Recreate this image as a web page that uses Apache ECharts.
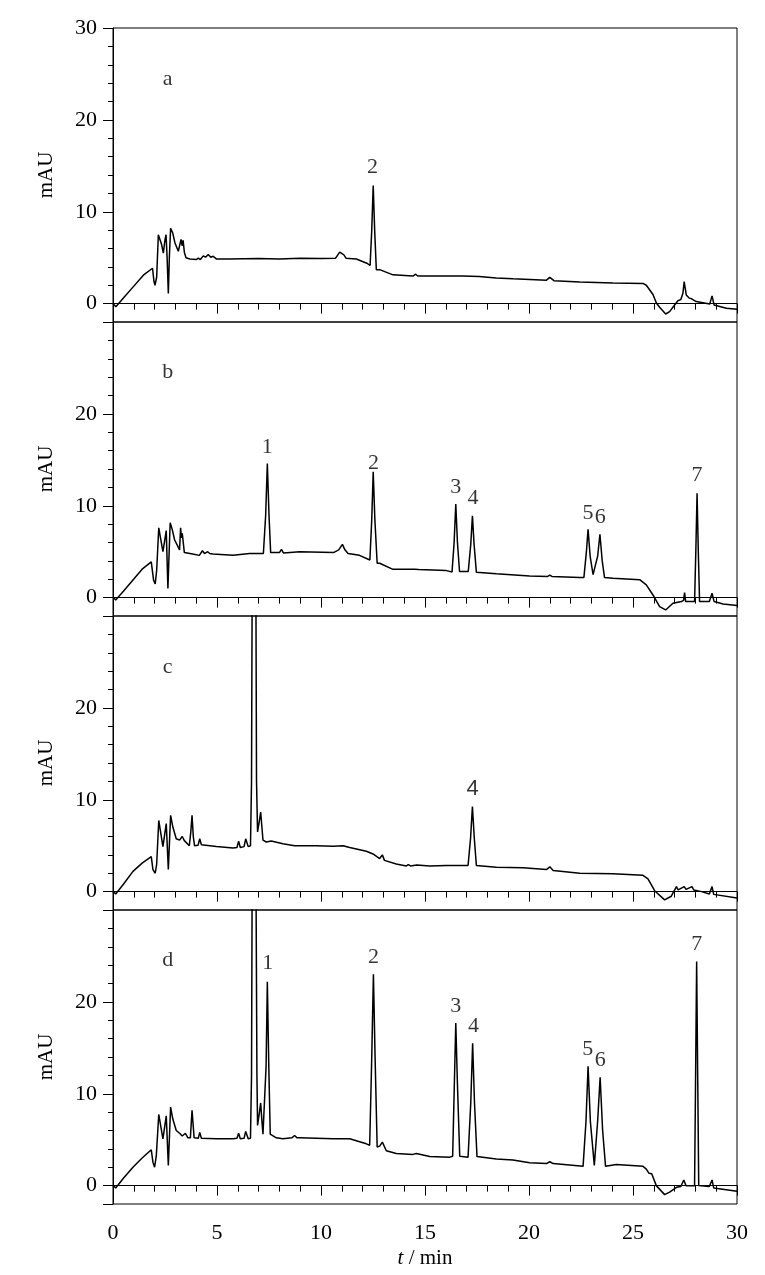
<!DOCTYPE html>
<html>
<head>
<meta charset="utf-8">
<script src="https://cdn.jsdelivr.net/npm/echarts@6/dist/echarts.min.js"></script>
<style>
html, body { margin: 0; padding: 0; background: #fff; }
#chart { width: 765px; height: 1275px; }
</style>
</head>
<body>
<div id="chart"></div>
<script>
// chromatogram a
var timeA = [0, 0.14, 0.5, 0.98, 1.46, 1.9, 1.97, 2.02, 2.1, 2.18, 2.26, 2.34, 2.42, 2.5, 2.55, 2.6, 2.66, 2.71, 2.77, 2.87, 2.98, 3.14, 3.22, 3.27, 3.32, 3.37, 3.43, 3.51, 3.7, 4.0, 4.1, 4.2, 4.34, 4.45, 4.58, 4.7, 4.82, 4.98, 5.6, 7.0, 8.0, 9.0, 10.0, 10.7, 10.9, 10.98, 11.1, 11.2, 11.7, 12.2, 12.36, 12.44, 12.51, 12.58, 12.66, 12.82, 13.46, 14.42, 14.55, 14.65, 16.8, 17.6, 18.43, 19.23, 20.84, 21.0, 21.2, 22.44, 24.04, 25.48, 25.64, 25.96, 26.13, 26.28, 26.57, 26.76, 27.0, 27.17, 27.3, 27.4, 27.46, 27.56, 27.7, 27.75, 27.8, 28.04, 28.69, 28.8, 28.9, 29.49, 30];
var mauA = [0, -0.35, 0.6, 1.85, 3.1, 3.85, 2.4, 2.0, 2.9, 7.5, 7.6, 6.4, 5.5, 6.95, 7.5, 5.1, 1.1, 5.1, 8.2, 7.7, 6.6, 5.7, 5.7, 7.0, 6.3, 6.9, 5.6, 5.0, 4.85, 4.8, 4.95, 4.8, 5.2, 5.05, 5.35, 5.05, 5.15, 4.85, 4.85, 4.9, 4.85, 4.95, 4.9, 4.95, 5.6, 5.8, 5.3, 4.95, 4.85, 4.4, 4.15, 8.0, 12.85, 8.0, 3.7, 3.7, 3.13, 3.0, 3.2, 3.0, 3.0, 2.95, 2.8, 2.7, 2.55, 2.85, 2.5, 2.35, 2.25, 2.2, 2.0, 1.0, 0.04, -0.4, -1.13, -0.87, -0.15, 0.33, 0.45, 1.13, 2.4, 0.95, 0.6, 0.75, 0.55, 0.22, -0.04, 0.84, -0.15, -0.5, -0.62];
var tagA = ['a', '2'];
var tagTimeA = [2.63, 12.48];
var tagMauA = [24.4, 14.8];

// chromatogram b
var timeB = [0, 0.13, 0.5, 0.96, 1.4, 1.84, 1.95, 2.03, 2.1, 2.2, 2.26, 2.4, 2.56, 2.64, 2.7, 2.75, 2.85, 2.96, 3.2, 3.25, 3.29, 3.33, 3.43, 3.83, 4.15, 4.3, 4.4, 4.55, 4.65, 4.8, 5.77, 6.57, 7.23, 7.34, 7.42, 7.5, 7.58, 8.0, 8.1, 8.2, 8.97, 10.6, 10.85, 11.03, 11.15, 11.3, 11.85, 12.35, 12.44, 12.51, 12.59, 12.7, 12.82, 13.46, 14.5, 14.58, 14.7, 16.03, 16.3, 16.4, 16.48, 16.56, 16.66, 17.08, 17.2, 17.28, 17.36, 17.47, 18.43, 20.03, 20.9, 21.0, 21.1, 22.44, 22.64, 22.76, 22.84, 22.94, 23.08, 23.16, 23.3, 23.41, 23.52, 23.63, 24.04, 25.32, 25.64, 25.96, 26.28, 26.57, 26.92, 27.33, 27.43, 27.48, 27.53, 27.96, 28.02, 28.08, 28.14, 28.2, 28.67, 28.8, 28.9, 29.33, 30];
var mauB = [0.1, -0.25, 0.7, 1.92, 3.1, 3.9, 1.9, 1.5, 3.0, 7.6, 7.5, 5.0, 7.3, 1.0, 5.0, 8.15, 7.4, 6.3, 5.2, 7.6, 6.5, 7.0, 4.9, 4.75, 4.6, 5.1, 4.8, 5.0, 4.8, 4.75, 4.6, 4.8, 4.8, 9.0, 14.6, 9.0, 4.9, 4.9, 5.26, 4.85, 5.0, 4.9, 5.2, 5.8, 5.2, 4.8, 4.6, 4.1, 8.5, 13.7, 8.5, 3.74, 3.74, 3.08, 3.1, 3.25, 3.05, 2.94, 2.8, 6.0, 10.2, 6.0, 2.85, 2.85, 5.8, 8.9, 5.8, 2.77, 2.6, 2.36, 2.3, 2.45, 2.3, 2.2, 2.2, 5.0, 7.43, 4.5, 2.5, 2.4, 4.5, 6.9, 4.0, 2.2, 2.1, 1.95, 1.38, 0.29, -0.98, -1.34, -0.61, -0.43, -0.3, 0.54, -0.43, -0.43, 5.0, 11.35, 5.0, -0.43, -0.43, 0.47, -0.43, -0.7, -0.85];
var tagB = ['b', '1', '2', '3', '4', '5', '6', '7'];
var tagTimeB = [2.63, 7.42, 12.53, 16.48, 17.31, 22.84, 23.43, 28.08];
var tagMauB = [24.5, 16.4, 14.6, 12.07, 10.8, 9.17, 8.8, 13.3];

// chromatogram c
var timeC = [0, 0.13, 0.5, 0.96, 1.4, 1.84, 1.92, 2.03, 2.1, 2.2, 2.28, 2.4, 2.56, 2.66, 2.77, 2.88, 3.04, 3.2, 3.33, 3.43, 3.67, 3.74, 3.8, 3.86, 3.92, 4.09, 4.17, 4.25, 4.97, 5.77, 5.96, 6.04, 6.12, 6.3, 6.38, 6.5, 6.61, 6.66, 6.7, 6.86, 6.9, 6.95, 7.03, 7.1, 7.16, 7.21, 7.37, 7.61, 8.17, 8.73, 9.77, 10.58, 11.06, 11.38, 12.18, 12.5, 12.82, 12.95, 13.05, 13.62, 14.1, 14.2, 14.3, 14.6, 15.23, 16.03, 17.07, 17.19, 17.28, 17.37, 17.47, 18.43, 19.71, 20.84, 21.0, 21.16, 22.44, 24.04, 25.48, 25.72, 26.04, 26.52, 26.84, 27.09, 27.17, 27.46, 27.55, 27.84, 27.92, 28.3, 28.67, 28.8, 28.88, 30];
var mauC = [0, -0.25, 0.8, 2.2, 3.1, 3.82, 2.4, 2.0, 3.0, 7.75, 7.6, 4.9, 7.4, 2.4, 8.3, 7.0, 5.75, 5.6, 6.0, 5.55, 5.0, 6.5, 8.3, 6.0, 5.0, 5.05, 5.75, 5.1, 4.9, 4.75, 4.8, 5.5, 4.8, 4.9, 5.75, 4.9, 5.0, 12, 40, 40, 12, 6.5, 7.6, 8.65, 7.0, 5.6, 5.4, 5.5, 5.2, 5.0, 5.0, 4.95, 5.0, 4.8, 4.4, 4.1, 3.6, 4.0, 3.4, 3.0, 2.8, 2.95, 2.8, 2.9, 2.8, 2.85, 2.85, 5.8, 9.27, 5.8, 2.85, 2.65, 2.6, 2.4, 2.7, 2.3, 2.0, 1.95, 1.78, 1.4, 0.1, -0.9, -0.5, 0.55, 0.18, 0.55, 0.25, 0.55, 0.18, 0.0, -0.25, 0.55, -0.3, -0.7];
var tagC = ['c', '4'];
var tagTimeC = [2.63, 17.29];
var tagMauC = [24.4, 11.2];

// chromatogram d
var timeD = [0, 0.13, 0.5, 0.96, 1.4, 1.84, 1.92, 2.0, 2.08, 2.2, 2.28, 2.4, 2.56, 2.66, 2.77, 2.87, 3.04, 3.2, 3.28, 3.33, 3.48, 3.6, 3.72, 3.8, 3.9, 4.1, 4.17, 4.25, 4.97, 5.77, 5.96, 6.04, 6.12, 6.3, 6.38, 6.5, 6.61, 6.66, 6.7, 6.86, 6.92, 6.95, 7.03, 7.1, 7.16, 7.21, 7.29, 7.36, 7.42, 7.49, 7.56, 7.61, 7.85, 8.17, 8.6, 8.73, 8.85, 8.97, 10.58, 11.38, 12.18, 12.34, 12.44, 12.52, 12.6, 12.7, 12.82, 12.95, 13.14, 13.62, 14.42, 14.58, 15.23, 16.19, 16.33, 16.41, 16.48, 16.56, 16.67, 17.07, 17.2, 17.29, 17.38, 17.5, 18.43, 19.23, 19.3, 20.03, 20.84, 21.0, 21.16, 22.6, 22.74, 22.84, 22.95, 23.14, 23.3, 23.42, 23.54, 23.68, 24.2, 25.48, 25.64, 25.77, 25.9, 26.12, 26.52, 26.76, 27.09, 27.3, 27.44, 27.55, 27.96, 28.01, 28.06, 28.11, 28.16, 28.67, 28.8, 28.88, 30];
var mauD = [0, -0.25, 0.8, 2.0, 3.0, 3.9, 2.55, 2.0, 3.2, 7.75, 7.6, 5.1, 7.6, 2.2, 8.55, 7.3, 6.0, 5.7, 5.8, 5.4, 5.7, 5.2, 5.2, 8.2, 5.2, 5.15, 5.8, 5.15, 5.1, 5.1, 5.15, 5.7, 5.1, 5.15, 5.9, 5.1, 5.15, 12, 40, 40, 12, 6.55, 7.8, 9.0, 7.0, 5.6, 5.5, 13, 22.2, 13, 5.6, 5.4, 5.2, 5.1, 5.2, 5.45, 5.2, 5.2, 5.1, 5.1, 4.55, 4.4, 14, 23.0, 14, 4.2, 4.3, 4.73, 3.8, 3.5, 3.4, 3.5, 3.16, 3.1, 3.2, 11, 17.7, 11, 3.2, 3.1, 9, 15.5, 9, 3.16, 2.9, 2.8, 2.9, 2.5, 2.4, 2.6, 2.4, 2.1, 7, 12.98, 7, 2.2, 7, 11.8, 6, 2.1, 2.3, 2.1, 1.8, 1.34, 1.3, 0, -0.98, -0.7, -0.18, -0.1, 0.62, 0.0, 0.0, 12, 24.4, 12, 0.0, -0.1, 0.62, -0.25, -0.62];
var tagD = ['d', '1', '2', '3', '4', '5', '6', '7'];
var tagTimeD = [2.63, 7.44, 12.53, 16.48, 17.33, 22.82, 23.43, 28.06];
var tagMauD = [24.5, 24.2, 24.9, 19.5, 17.35, 14.9, 13.7, 26.3];

var majorTicksY = [-2, 0, 10, 20, 30];
var labelsYTop = [0, 10, 20, 30];
var labelsY = [0, 10, 20];

var panels = [
  {time: timeA, mau: mauA, tag: tagA, tagTime: tagTimeA, tagMau: tagMauA, yLabels: labelsYTop},
  {time: timeB, mau: mauB, tag: tagB, tagTime: tagTimeB, tagMau: tagMauB, yLabels: labelsY},
  {time: timeC, mau: mauC, tag: tagC, tagTime: tagTimeC, tagMau: tagMauC, yLabels: labelsY, tagFont: 'Liberation Sans'},
  {time: timeD, mau: mauD, tag: tagD, tagTime: tagTimeD, tagMau: tagMauD, yLabels: labelsY}
];

var serif = 'Liberation Serif';
var tops = [28, 322, 616, 910];
var grids = [], xAxes = [], yAxes = [], series = [];

panels.forEach(function (p, i) {
  var last = i === panels.length - 1;
  grids.push({
    left: 113, width: 624, top: tops[i], height: 294,
    show: true, borderColor: '#000', borderWidth: 1, backgroundColor: 'transparent'
  });
  xAxes.push({
    type: 'value', gridIndex: i, min: 0, max: 30, interval: 5,
    axisLine: {lineStyle: {color: '#000', width: 1}},
    axisTick: {show: true, inside: false, length: 10, lineStyle: {color: '#000', width: 1}},
    minorTick: {show: true, splitNumber: 5, length: 6, lineStyle: {color: '#000', width: 1}},
    splitLine: {show: false},
    minorSplitLine: {show: false},
    axisLabel: {show: last, margin: 18, fontFamily: serif, fontSize: 22, color: '#000'},
    name: last ? '{i|t} / min' : '',
    nameLocation: 'middle', nameGap: 44,
    nameTextStyle: {
      fontFamily: serif, fontSize: 21, color: '#000',
      rich: {i: {fontFamily: serif, fontSize: 21, fontStyle: 'italic', color: '#000'}}
    }
  });
  yAxes.push({
    type: 'value', gridIndex: i, position: 'left', min: -2, max: 30, splitNumber: 3,
    axisLine: {show: true, lineStyle: {color: '#000', width: 1}},
    axisTick: {show: true, inside: false, length: 10, customValues: majorTicksY, lineStyle: {color: '#000', width: 1}},
    axisLabel: {customValues: p.yLabels, margin: 16, fontFamily: serif, fontSize: 22, color: '#000'},
    splitLine: {show: false},
    name: 'mAU', nameLocation: 'middle', nameRotate: 90, nameGap: 56,
    nameTextStyle: {fontFamily: serif, fontSize: 21, color: '#000'}
  });
  yAxes.push({
    type: 'value', gridIndex: i, position: 'left', min: -2, max: 30, interval: 2,
    axisLine: {show: false},
    axisTick: {show: true, inside: false, length: 5, lineStyle: {color: '#000', width: 1}},
    axisLabel: {show: false},
    splitLine: {show: false}
  });
  series.push({
    type: 'line', xAxisIndex: i, yAxisIndex: 2 * i,
    data: p.time.map(function (t, k) { return [t, p.mau[k]]; }),
    symbol: 'none', showSymbol: false, smooth: false, clip: true,
    lineStyle: {color: '#000', width: 1.5},
    silent: true
  });
  series.push({
    type: 'scatter', xAxisIndex: i, yAxisIndex: 2 * i,
    symbolSize: 1, itemStyle: {color: 'rgba(0,0,0,0)'},
    data: p.tag.map(function (s, k) {
      var item = {name: s, value: [p.tagTime[k], p.tagMau[k]]};
      if (p.tagFont && k > 0) item.label = {fontFamily: p.tagFont};
      return item;
    }),
    label: {show: true, position: 'inside', formatter: '{b}', fontFamily: serif, fontSize: 22, color: '#000'},
    silent: true
  });
});

var chart = echarts.init(document.getElementById('chart'));
chart.setOption({
  animation: false,
  backgroundColor: '#fff',
  grid: grids,
  xAxis: xAxes,
  yAxis: yAxes,
  series: series
});
</script>
</body>
</html>
